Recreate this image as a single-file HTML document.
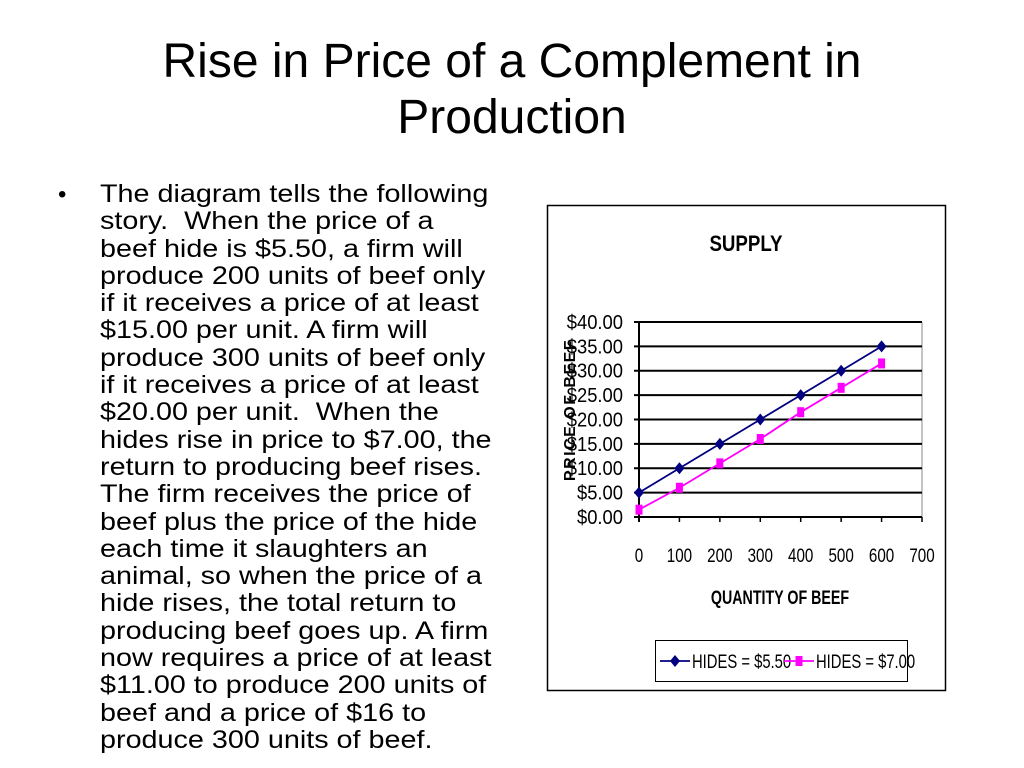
<!DOCTYPE html>
<html><head><meta charset="utf-8"><style>
body{margin:0;width:1024px;height:768px;background:#fff;font-family:"Liberation Sans",Arial,sans-serif;overflow:hidden;position:relative}
#title{position:absolute;left:0;width:1024px;top:34px;text-align:center;font-size:48px;line-height:56px;color:#000}
#bullet{position:absolute;left:58px;top:181px;font-size:24px;line-height:27.3px}
#body{position:absolute;left:100px;top:181px;width:345px;font-size:25px;line-height:27.3px;transform:scaleX(1.15);transform-origin:0 0}
</style></head><body>
<div id="title">Rise in Price of a Complement in<br>Production</div>
<div id="bullet">•</div>
<div id="body">The diagram tells the following story.&nbsp; When the price of a beef hide is $5.50, a firm will produce 200 units of beef only if it receives a price of at least $15.00 per unit. A firm will produce 300 units of beef only if it receives a price of at least $20.00 per unit.&nbsp; When the hides rise in price to $7.00, the return to producing beef rises. The firm receives the price of beef plus the price of the hide each time it slaughters an animal, so when the price of a hide rises, the total return to producing beef goes up. A firm now requires a price of at least $11.00 to produce 200 units of beef and a price of $16 to produce 300 units of beef.</div>
<svg id="chart" width="1024" height="768" style="position:absolute;left:0;top:0"></svg>
<script>
const xTicks=[0,100,200,300,400,500,600,700];
const yTicks=[0,5,10,15,20,25,30,35,40];
const quantities=[0,100,200,300,400,500,600];
const hides550=[5,10,15,20,25,30,35];
const hides700=[1.5,6,11,16,21.5,26.5,31.5];
const svg=document.getElementById('chart');
const NS='http://www.w3.org/2000/svg';
const X0=639,X1=922,Y0=517,Y1=322;
const xs=v=>X0+(v/700)*(X1-X0);
const ys=v=>Y0-(v/40)*(Y0-Y1);
function el(t,a,txt){const e=document.createElementNS(NS,t);for(const k in a)e.setAttribute(k,a[k]);if(txt!==undefined)e.textContent=txt;svg.appendChild(e);return e;}
let e=el('rect',{x:547.5,y:205.5,width:398,height:485,fill:'#fff',stroke:'#000','stroke-width':1.5});

e=el('text',{x:746/0.85,y:251,'text-anchor':'middle','font-size':22,'font-weight':'bold',transform:'scale(0.85,1)'},'SUPPLY');

el('line',{x1:X1,y1:Y1,x2:X1,y2:Y0,stroke:'#888','stroke-width':1});
yTicks.forEach(v=>{
 let g=el('line',{x1:X0-5,y1:ys(v),x2:X1,y2:ys(v),stroke:'#000','stroke-width':2});
 
 let t=el('text',{x:623/0.92,y:ys(v)+7,'text-anchor':'end','font-size':20,transform:'scale(0.92,1)'},'$'+v.toFixed(2));
 
});
el('line',{x1:X0,y1:Y1,x2:X0,y2:Y0+5,stroke:'#000','stroke-width':2});
xTicks.forEach(v=>{
 el('line',{x1:xs(v),y1:Y0,x2:xs(v),y2:Y0+5,stroke:'#000','stroke-width':1.5});
 let t=el('text',{x:xs(v)/0.8,y:562,'text-anchor':'middle','font-size':19,transform:'scale(0.8,1)'},String(v));
 
});
e=el('text',{x:780/0.75,y:604,'text-anchor':'middle','font-size':19,'font-weight':'bold',transform:'scale(0.75,1)'},'QUANTITY OF BEEF');

e=el('text',{x:-410,y:575,'text-anchor':'middle','font-size':16,'font-weight':'bold','letter-spacing':'1.5',transform:'rotate(-90)'},'PRICE OF BEEF');

function series(vals,color,name,shape){
 let pts=quantities.map((q,i)=>xs(q)+','+ys(vals[i])).join(' ');
 let l=el('polyline',{points:pts,fill:'none',stroke:color,'stroke-width':1.8});
 
 quantities.forEach((q,i)=>{
  let x=xs(q),y=ys(vals[i]),m;
  if(shape==='d')m=el('polygon',{points:`${x},${y-6} ${x+5},${y} ${x},${y+6} ${x-5},${y}`,fill:color});
  else m=el('rect',{x:x-3.5,y:y-5,width:7,height:10,fill:color});
  
 });
}
series(hides550,'#000080','hides-550','d');
series(hides700,'#ff00ff','hides-700','s');
e=el('rect',{x:655.5,y:640.5,width:252,height:41,fill:'#fff',stroke:'#000','stroke-width':1});

el('line',{x1:660,y1:661,x2:690,y2:661,stroke:'#000080','stroke-width':1.8});
el('polygon',{points:'675,655 680,661 675,667 670,661',fill:'#000080'});
e=el('text',{x:692/0.78,y:668,'font-size':19,transform:'scale(0.78,1)'},'HIDES = $5.50');

el('line',{x1:784,y1:661,x2:814,y2:661,stroke:'#ff00ff','stroke-width':1.8});
el('rect',{x:795.5,y:656,width:7,height:10,fill:'#ff00ff'});
e=el('text',{x:816/0.78,y:668,'font-size':19,transform:'scale(0.78,1)'},'HIDES = $7.00');

</script>
</body></html>
